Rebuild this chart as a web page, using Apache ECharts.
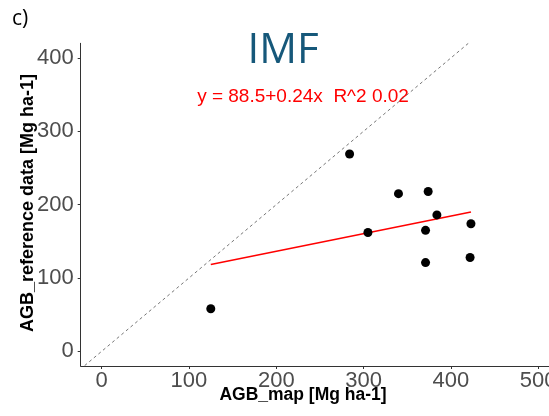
<!DOCTYPE html>
<html><head><meta charset="utf-8">
<script src="https://cdn.jsdelivr.net/npm/echarts@6/dist/echarts.min.js"></script>
<style>html,body{margin:0;padding:0;background:#fff}#c{width:549px;height:416px}</style>
</head><body><div id="c"></div>
<script>
// Data
const mapAGB = [125, 284, 305, 340, 374, 384, 371, 371, 423, 422];
const refAGB = [58, 269, 162, 215, 218, 186, 165, 121, 174, 128];
const fitIntercept = 88.5;
const fitSlope = 0.24;
const oneToOne = [-30, 430];
const xTicks = [0, 100, 200, 300, 400, 500];
const yTicks = [0, 100, 200, 300, 400];

const points = mapAGB.map((x, i) => [x, refAGB[i]]);
const xMin = Math.min(...mapAGB), xMax = Math.max(...mapAGB);
const fitLine = [[xMin, fitIntercept + fitSlope * xMin], [xMax, fitIntercept + fitSlope * xMax]];
const diag = oneToOne.map(v => [v, v]);

const chart = echarts.init(document.getElementById('c'), null, {renderer: 'canvas'});
const tickLabel = {color: '#4d4d4d', fontSize: 22, fontFamily: 'Liberation Sans, Arial, sans-serif'};
chart.setOption({
  animation: false,
  grid: {left: 80.7, top: 43.3, right: 0, bottom: 50, containLabel: false, outerBoundsMode: 'none'},
  xAxis: {
    type: 'value', min: -24, max: 512.4,
    splitLine: {show: false},
    axisLine: {show: true, onZero: false, lineStyle: {color: '#333', width: 1}},
    axisTick: {show: true, length: 3, lineStyle: {color: '#333'}, customValues: xTicks},
    axisLabel: Object.assign({margin: 4, customValues: xTicks, showMinLabel: true, showMaxLabel: true, hideOverlap: false}, tickLabel)
  },
  yAxis: {
    type: 'value', min: -20, max: 420,
    splitLine: {show: false},
    axisLine: {show: true, onZero: false, lineStyle: {color: '#333', width: 1}},
    axisTick: {show: true, length: 3, lineStyle: {color: '#333'}, customValues: yTicks},
    axisLabel: Object.assign({margin: 7, customValues: yTicks}, tickLabel)
  },
  series: [
    {type: 'line', data: diag, showSymbol: false, symbol: 'none', clip: true,
     lineStyle: {color: '#666', width: 0.9, type: [3, 3]}, z: 1, silent: true},
    {type: 'line', data: fitLine, showSymbol: false, symbol: 'none',
     lineStyle: {color: '#ff0000', width: 1.5}, z: 2},
    {type: 'scatter', data: points, symbol: 'circle', symbolSize: 9,
     itemStyle: {color: '#000', opacity: 1}, z: 3}
  ],
  graphic: [
    {type: 'text', left: 12, top: 9, style: {text: 'c)', fontSize: 21, fill: '#000', fontFamily: 'Open Sans, sans-serif'}},
    {type: 'text', x: 283, y: 51, style: {text: 'IMF', fontSize: 42, fill: '#16587a', fontFamily: 'Open Sans, sans-serif', align: 'center', verticalAlign: 'middle'}},
    {type: 'text', x: 303, y: 97, style: {text: 'y = 88.5+0.24x  R^2 0.02', fontSize: 19, fill: '#ff0000', fontFamily: 'Liberation Sans, Arial, sans-serif', align: 'center', verticalAlign: 'middle'}},
    {type: 'text', x: 303, y: 395, style: {text: 'AGB_map [Mg ha-1]', fontSize: 17.5, fontWeight: 'bold', fill: '#000', fontFamily: 'Liberation Sans, Arial, sans-serif', align: 'center', verticalAlign: 'middle'}},
    {type: 'text', x: 28, y: 203, rotation: Math.PI / 2, style: {text: 'AGB_reference data [Mg ha-1]', fontSize: 18, fontWeight: 'bold', fill: '#000', fontFamily: 'Liberation Sans, Arial, sans-serif', align: 'center', verticalAlign: 'middle'}}
  ]
});
</script></body></html>
